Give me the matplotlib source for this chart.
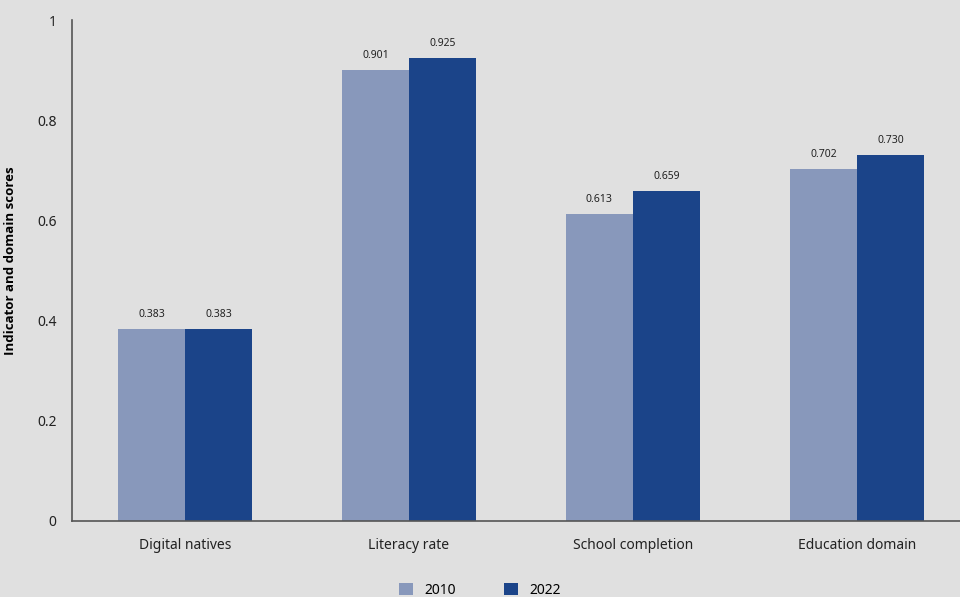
import matplotlib.pyplot as plt
import numpy as np

categories = ['Digital natives', 'Literacy rate', 'School completion', 'Education domain']
scores_2010 = [0.383, 0.901, 0.613, 0.702]
scores_2022 = [0.383, 0.925, 0.659, 0.730]
series_labels = ['2010', '2022']
c2010 = '#8898bb'
c2022 = '#1b4489'
bg = '#e0e0e0'

plt.rcParams['font.family'] = ['Noto Sans', 'DejaVu Sans']

fig = plt.figure(figsize=(9.6, 5.97), dpi=100, facecolor=bg)
ax = fig.add_axes([72 / 960, 76 / 597, 1 - 72 / 960, 501 / 597])
ax.set_facecolor(bg)

x = np.arange(len(categories))
w = 0.3
b1 = ax.bar(x - w / 2, scores_2010, w, color=c2010, label=series_labels[0])
b2 = ax.bar(x + w / 2, scores_2022, w, color=c2022, label=series_labels[1])

for bars, vals in ((b1, scores_2010), (b2, scores_2022)):
    for r, v in zip(bars, vals):
        ax.text(r.get_x() + r.get_width() / 2, v + 0.018, f'{v:.3f}',
                ha='center', va='bottom', fontsize=7.5, color='#222222')

ax.set_xlim(-113 / 224, 775 / 224)
ax.set_ylim(0, 1)
ax.set_yticks([0, 0.2, 0.4, 0.6, 0.8, 1])
ax.set_yticklabels(['0', '0.2', '0.4', '0.6', '0.8', '1'])
ax.set_xticks(x)
ax.set_xticklabels(categories)
ax.tick_params(axis='both', length=0, labelsize=10, colors='#222222')
ax.tick_params(axis='y', pad=11)
ax.tick_params(axis='x', pad=12)
for s in ('top', 'right'):
    ax.spines[s].set_visible(False)
for s in ('left', 'bottom'):
    ax.spines[s].set_color('#555555')
    ax.spines[s].set_linewidth(1.2)
ax.set_ylabel('Indicator and domain scores', fontsize=9.5, fontweight='bold',
              family=['Open Sans', 'DejaVu Sans'], labelpad=10)
ax.yaxis.set_label_coords(-0.062, 0.52)

fig.legend(handles=[b1, b2], labels=series_labels, loc='lower center',
           bbox_to_anchor=(0.5, -0.022), ncol=2, frameon=False, fontsize=10,
           handlelength=1.0, handleheight=1.0, columnspacing=3.5)

fig.savefig('out.png', dpi=100, facecolor=bg)
